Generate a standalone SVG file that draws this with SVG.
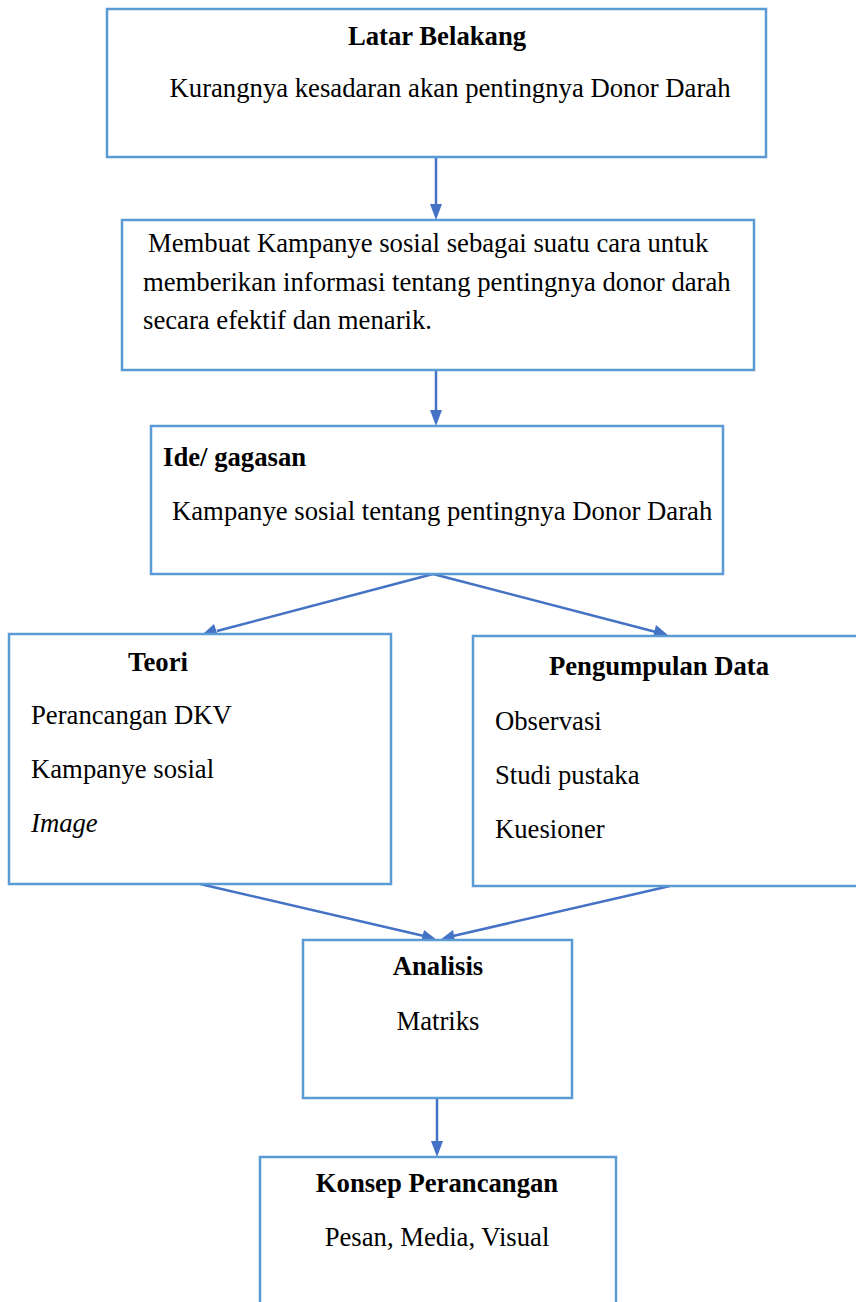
<svg xmlns="http://www.w3.org/2000/svg" width="856" height="1302" viewBox="0 0 856 1302">
<style>
.box{fill:#fff;stroke:#5B9BD5;stroke-width:2.5}
.t{font-family:"Liberation Serif","Times New Roman",serif;font-size:26.7px;fill:#000}
.b{font-weight:bold}
.i{font-style:italic}
.c{text-anchor:middle}
.ln{stroke:#4472C4;stroke-width:2.5;fill:none}
.hd{fill:#4472C4}
</style>
<rect width="856" height="1302" fill="#fff"/>
<g id="connectors">
<line class="ln" x1="436" y1="157" x2="436" y2="205"/>
<path class="hd" d="M430,204 L442,204 L436,220 z"/>
<line class="ln" x1="436" y1="370" x2="436" y2="411"/>
<path class="hd" d="M430,410 L442,410 L436,426 z"/>
<line class="ln" x1="433" y1="574" x2="217" y2="631"/>
<path class="hd" d="M203,634 L214,624 L218,636 z"/>
<line class="ln" x1="433" y1="574" x2="656" y2="632"/>
<path class="hd" d="M669,636 L653,637 L656,625 z"/>
<line class="ln" x1="200" y1="884" x2="424" y2="936"/>
<path class="hd" d="M437,940 L421,942 L424,930 z"/>
<line class="ln" x1="670" y1="886" x2="453" y2="936"/>
<path class="hd" d="M440,940 L453,930 L455,942 z"/>
<line class="ln" x1="437" y1="1098" x2="437" y2="1142"/>
<path class="hd" d="M431,1141 L443,1141 L437,1157 z"/>
</g>
<g id="latar">
<rect class="box" x="107" y="9" width="659" height="148"/>
<text class="t b c" x="437" y="45">Latar Belakang</text>
<text class="t c" x="450" y="97">Kurangnya kesadaran akan pentingnya Donor Darah</text>
</g>
<g id="kampanye">
<rect class="box" x="122" y="220" width="632" height="150"/>
<text class="t" x="148" y="252">Membuat Kampanye sosial sebagai suatu cara untuk</text>
<text class="t" x="143" y="291">memberikan informasi tentang pentingnya donor darah</text>
<text class="t" x="143" y="329">secara efektif dan menarik.</text>
</g>
<g id="ide">
<rect class="box" x="151" y="426" width="572" height="148"/>
<text class="t b" x="163" y="466">Ide/ gagasan</text>
<text class="t" x="172" y="520">Kampanye sosial tentang pentingnya Donor Darah</text>
</g>
<g id="teori">
<rect class="box" x="9" y="634" width="382" height="250"/>
<text class="t b c" x="158" y="671">Teori</text>
<text class="t" x="31" y="724">Perancangan DKV</text>
<text class="t" x="31" y="778">Kampanye sosial</text>
<text class="t i" x="31" y="832">Image</text>
</g>
<g id="pengumpulan">
<rect class="box" x="473" y="636" width="390" height="250"/>
<text class="t b c" x="659" y="675">Pengumpulan Data</text>
<text class="t" x="495" y="730">Observasi</text>
<text class="t" x="495" y="784">Studi pustaka</text>
<text class="t" x="495" y="838">Kuesioner</text>
</g>
<g id="analisis">
<rect class="box" x="303" y="940" width="269" height="158"/>
<text class="t b c" x="438" y="975">Analisis</text>
<text class="t c" x="438" y="1030">Matriks</text>
</g>
<g id="konsep">
<rect class="box" x="260" y="1157" width="356" height="160"/>
<text class="t b c" x="437" y="1192">Konsep Perancangan</text>
<text class="t c" x="437" y="1246">Pesan, Media, Visual</text>
</g>
</svg>
